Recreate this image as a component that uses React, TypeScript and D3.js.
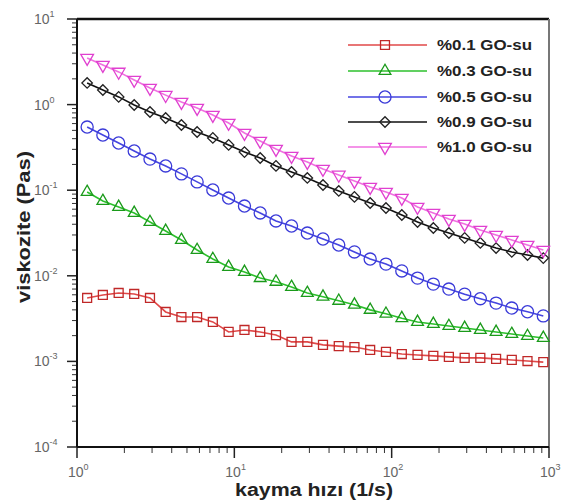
// App.tsx
// viscosity vs shear rate, log-log, five GO-water samples
import * as d3 from 'd3';
import React, { useRef, useEffect } from 'react';

// shear rate (1/s)
const shearRate = [1.16, 1.46, 1.84, 2.31, 2.91, 3.66, 4.61, 5.8, 7.3, 9.2,
    11.6, 14.6, 18.4, 23.1, 29.1, 36.6, 46.1, 58, 73, 92,
    116, 146, 184, 231, 291, 366, 461, 580, 730, 920];

// viscosity (Pas)
const go01 = [0.00551, 0.00597, 0.0063, 0.00613, 0.00551, 0.00378, 0.0033, 0.0033, 0.00289, 0.00221,
    0.00233, 0.00221, 0.00203, 0.00169, 0.00169, 0.00156, 0.00151, 0.00147, 0.00136, 0.00129,
    0.00122, 0.00119, 0.00116, 0.00113, 0.0011, 0.0011, 0.00107, 0.00104, 0.00101, 0.00098];
const go03 = [0.0953, 0.0748, 0.0637, 0.0542, 0.0425, 0.0334, 0.0262, 0.02, 0.0157, 0.0127,
    0.0111, 0.0094, 0.0085, 0.0074, 0.0063, 0.0057, 0.0051, 0.0046, 0.004, 0.0036,
    0.0032, 0.00289, 0.00274, 0.00259, 0.00246, 0.00233, 0.00221, 0.00209, 0.00198, 0.00188];
const go05 = [0.547, 0.441, 0.356, 0.287, 0.231, 0.192, 0.155, 0.125, 0.1005, 0.081,
    0.0653, 0.0542, 0.0437, 0.0382, 0.0316, 0.0269, 0.0229, 0.019, 0.0157, 0.0137,
    0.0114, 0.0094, 0.008, 0.007, 0.0061, 0.0054, 0.0048, 0.0042, 0.0038, 0.0034];
const go09 = [1.79, 1.48, 1.23, 0.99, 0.82, 0.697, 0.578, 0.479, 0.408, 0.338,
    0.279, 0.238, 0.192, 0.163, 0.139, 0.115, 0.098, 0.0834, 0.0708, 0.0619,
    0.0513, 0.0425, 0.0362, 0.0316, 0.0277, 0.0242, 0.0211, 0.019, 0.0175, 0.0161];
const go10 = [3.5, 2.9, 2.41, 1.94, 1.56, 1.29, 1.07, 0.91, 0.756, 0.61,
    0.466, 0.376, 0.303, 0.251, 0.213, 0.177, 0.151, 0.128, 0.109, 0.095,
    0.081, 0.0637, 0.0542, 0.0461, 0.0403, 0.0343, 0.03, 0.0262, 0.0229, 0.02];

const seriesNames = ["%0.1 GO-su", "%0.3 GO-su", "%0.5 GO-su", "%0.9 GO-su", "%1.0 GO-su"];
const seriesValues = [go01, go03, go05, go09, go10];

const xExponents = [0, 1, 2, 3];
const yExponents = [-4, -3, -2, -1, 0, 1];

const styles = [
    { line: "#e04848", mark: "#c02828", sym: d3.symbolSquare, size: 80, rot: 0 },
    { line: "#2cc02c", mark: "#1a9a1a", sym: d3.symbolTriangle, size: 60, rot: 0 },
    { line: "#4545e0", mark: "#3a3ad8", sym: d3.symbolCircle, size: 115, rot: 0 },
    { line: "#111111", mark: "#222222", sym: d3.symbolSquare, size: 55, rot: 45 },
    { line: "#f070e0", mark: "#e040d0", sym: d3.symbolTriangle, size: 70, rot: 180 },
];

function Chart() {
    const ref = useRef(null);
    const width = 561, height = 502;
    const left = 77, right = 549, top = 19, bottom = 447;

    useEffect(() => {
        const svg = d3.select(ref.current);
        svg.selectAll("*").remove();

        const x = d3.scaleLog().domain([1, 1000]).range([left, right]);
        const y = d3.scaleLog().domain([1e-4, 10]).range([bottom, top]);

        const font = "Arial, 'Liberation Sans', sans-serif";

        // minor ticks
        const g = svg.append("g");
        for (let e = 0; e < 3; e++) {
            for (let m = 2; m < 10; m++) {
                const px = x(m * Math.pow(10, e));
                g.append("line").attr("x1", px).attr("x2", px)
                    .attr("y1", bottom).attr("y2", bottom + 6)
                    .attr("stroke", "#333").attr("stroke-width", 1);
            }
        }
        for (let e = -4; e < 1; e++) {
            for (let m = 2; m < 10; m++) {
                const py = y(m * Math.pow(10, e));
                g.append("line").attr("x1", left - 5).attr("x2", left)
                    .attr("y1", py).attr("y2", py)
                    .attr("stroke", "#333").attr("stroke-width", 1);
            }
        }
        // major ticks and labels
        xExponents.forEach(e => {
            const px = x(Math.pow(10, e));
            g.append("line").attr("x1", px).attr("x2", px)
                .attr("y1", bottom).attr("y2", bottom + 11)
                .attr("stroke", "#222").attr("stroke-width", 1.5);
            const t = g.append("text").attr("x", px - 9).attr("y", 477)
                .attr("font-family", font)
                .attr("font-size", 14).attr("fill", "#666");
            t.append("tspan").text("10");
            t.append("tspan").attr("dy", -7).attr("font-size", 9).text(e);
        });
        yExponents.forEach(e => {
            const py = y(Math.pow(10, e));
            g.append("line").attr("x1", left - 10).attr("x2", left)
                .attr("y1", py).attr("y2", py)
                .attr("stroke", "#222").attr("stroke-width", 1.5);
            const t = g.append("text").attr("x", 34).attr("y", py + 5)
                .attr("font-family", font)
                .attr("font-size", 14).attr("fill", "#666");
            t.append("tspan").text("10");
            t.append("tspan").attr("dy", -7).attr("font-size", 9).text(e);
        });

        // frame
        svg.append("line").attr("x1", left).attr("x2", right).attr("y1", top).attr("y2", top)
            .attr("stroke", "#111").attr("stroke-width", 2.5);
        svg.append("line").attr("x1", right).attr("x2", right).attr("y1", top).attr("y2", bottom)
            .attr("stroke", "#777").attr("stroke-width", 2);
        svg.append("line").attr("x1", left).attr("x2", right).attr("y1", bottom).attr("y2", bottom)
            .attr("stroke", "#111").attr("stroke-width", 2);
        svg.append("line").attr("x1", left).attr("x2", left).attr("y1", top).attr("y2", bottom)
            .attr("stroke", "#111").attr("stroke-width", 2);

        // series
        const line = d3.line<number>()
            .x((d, i) => x(shearRate[i]))
            .y(d => y(d));

        seriesValues.forEach((vals, k) => {
            const s = styles[k];
            const sg = svg.append("g");
            sg.append("path").datum(vals)
                .attr("d", line)
                .attr("fill", "none")
                .attr("stroke", s.line)
                .attr("stroke-width", 1.6);
            sg.selectAll("path.m").data(vals).enter().append("path")
                .attr("class", "m")
                .attr("d", d3.symbol().type(s.sym).size(s.size)())
                .attr("transform", (d, i) => "translate(" + x(shearRate[i]) + "," + y(d) + ") rotate(" + s.rot + ")")
                .attr("fill", "none")
                .attr("stroke", s.mark)
                .attr("stroke-width", 1.3);
        });

        // legend
        const legY = [45, 71, 97, 122, 147];
        seriesNames.forEach((name, k) => {
            const s = styles[k];
            const ly = legY[k];
            svg.append("line").attr("x1", 348).attr("x2", 427).attr("y1", ly).attr("y2", ly)
                .attr("stroke", s.line).attr("stroke-width", 1.6);
            svg.append("path")
                .attr("d", d3.symbol().type(s.sym).size(s.size)())
                .attr("transform", "translate(385," + ly + ") rotate(" + s.rot + ")")
                .attr("fill", "none").attr("stroke", s.mark).attr("stroke-width", 1.3);
            svg.append("text").attr("x", 437).attr("y", ly + 5)
                .attr("font-family", font).attr("font-weight", "bold")
                .attr("font-size", 14).attr("fill", "#222")
                .attr("textLength", 95).attr("lengthAdjust", "spacingAndGlyphs")
                .text(name);
        });

        // axis titles
        svg.append("text").attr("x", 235).attr("y", 496)
            .attr("font-family", font)
            .attr("font-weight", "bold").attr("font-size", 18).attr("fill", "#222")
            .attr("textLength", 158).attr("lengthAdjust", "spacingAndGlyphs")
            .text("kayma hızı (1/s)");
        svg.append("text")
            .attr("transform", "translate(30,303) rotate(-90)")
            .attr("font-family", font)
            .attr("font-weight", "bold").attr("font-size", 18).attr("fill", "#222")
            .attr("textLength", 152).attr("lengthAdjust", "spacingAndGlyphs")
            .text("viskozite (Pas)");
    }, []);

    return (
        <svg ref={ref} width={width} height={height}
            style={{ position: "absolute", left: 0, top: 0, background: "#fff" }}>
        </svg>
    );
}

export default function App() {
    return <Chart />;
}
